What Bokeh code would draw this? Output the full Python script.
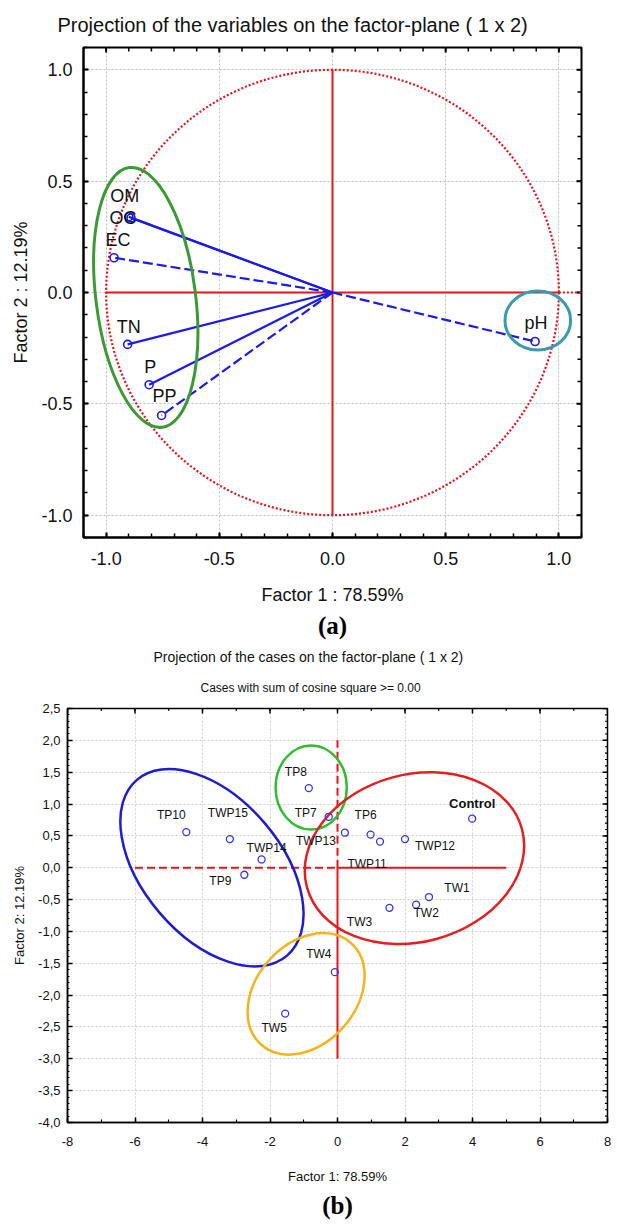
import numpy as np
from bokeh.plotting import figure
from bokeh.models import (ColumnDataSource, LinearAxis, FixedTicker, CustomJSTickFormatter,
                          Title, Range1d)
from bokeh.embed import file_html
from bokeh.resources import INLINE
from bokeh.core.properties import value

# ---------------- (a) projection of the variables ----------------
var_names = ["OM", "OC", "EC", "TN", "P", "PP", "pH"]
var_f1 = [-0.90, -0.89, -0.965, -0.905, -0.81, -0.755, 0.895]
var_f2 = [0.34, 0.335, 0.156, -0.233, -0.414, -0.552, -0.22]
var_dashed = [False, False, True, False, False, True, True]
var_lbl_dx = [-4, -8, 4, 1, 1, 3, 1]
var_lbl_dy = [-21, 0, -18, -17, -18, -19, -19]

a_ticks = [-1.0, -0.5, 0.0, 0.5, 1.0]
a_tick_labels = ["-1.0", "-0.5", "0.0", "0.5", "1.0"]

# group ellipses (a): centre x, centre y, width, height, angle (deg)
a_ell_x = [-0.825, 0.907]
a_ell_y = [-0.022, -0.126]
a_ell_w = [0.44, 0.29]
a_ell_h = [1.175, 0.265]
a_ell_ang = [7.2, 0.0]
a_ell_col = ["#3c9a34", "#3a9aae"]

# ---------------- (b) projection of the cases ----------------
case_names = ["Control", "TW1", "TW2", "TW3", "TW4", "TW5", "TP6", "TP7", "TP8", "TP9",
              "TP10", "TWP11", "TWP12", "TWP13", "TWP14", "TWP15"]
case_f1 = [3.99, 2.71, 2.33, 1.54, -0.08, -1.55, 0.98, -0.26, -0.85, -2.76,
           -4.48, 1.26, 2.0, 0.22, -2.25, -3.19]
case_f2 = [0.77, -0.46, -0.58, -0.63, -1.64, -2.29, 0.52, 0.80, 1.25, -0.11,
           0.56, 0.41, 0.45, 0.55, 0.13, 0.45]
case_lbl_dx = [0, 28, 10, -30, -16, -11, -5, -23, -13, -24, -15, -13, 30, -29, 5, -2]
case_lbl_dy = [-15, -9, 8, 14, -18, 14, -20, -4, -16, 6, -17, 22, 7, 8, -11, -26]

b_xticks = [-8, -6, -4, -2, 0, 2, 4, 6, 8]
b_xtick_labels = ["-8", "-6", "-4", "-2", "0", "2", "4", "6", "8"]
b_yticks = [2.5, 2.0, 1.5, 1.0, 0.5, 0.0, -0.5, -1.0, -1.5, -2.0, -2.5, -3.0, -3.5, -4.0]
b_ytick_labels = ["2,5", "2,0", "1,5", "1,0", "0,5", "0,0", "-0,5", "-1,0", "-1,5", "-2,0",
                  "-2,5", "-3,0", "-3,5", "-4,0"]

# group ellipses (b)
b_ell_x = [-3.72, -0.78, 2.28, -0.93]
b_ell_y = [0.0, 1.26, 0.15, -1.98]
b_ell_w = [6.85, 2.11, 6.6, 4.02]
b_ell_h = [2.17, 1.32, 2.63, 1.57]
b_ell_ang = [-49.5, 0.0, 15.2, 48.6]
b_ell_col = ["#1c1cd6", "#2ebd2e", "#e81e1e", "#f4b41a"]

# reference cross (b)
b_hline_dash = [-6.0, 0.0]
b_hline_solid = [0.0, 5.0]
b_vline_dash = [0.0, 2.0]
b_vline_solid = [-3.0, 0.0]

FONT = "Liberation Sans"
SERIF = "Liberation Serif"
RED = "#e8141b"
BLUE = "#1a1af0"


def fmt(ticks, labels):
    return CustomJSTickFormatter(args=dict(tv=list(ticks), tl=list(labels)), code="""
        for (let i = 0; i < tv.length; i++) { if (Math.abs(tv[i] - tick) < 1e-9) return tl[i]; }
        return '';
    """)


def style_axis(ax, fs, tick_in, minor_in, standoff, lw):
    ax.axis_line_color = "black"
    ax.axis_line_width = lw
    ax.major_tick_in = tick_in
    ax.major_tick_out = 0
    ax.minor_tick_in = minor_in
    ax.minor_tick_out = 0
    ax.major_tick_line_width = lw
    ax.minor_tick_line_width = lw * 0.75
    ax.major_label_text_font = FONT
    ax.major_label_text_font_size = fs
    ax.major_label_standoff = standoff
    ax.major_label_text_color = "#111111"
    ax.axis_label_text_font = FONT
    ax.axis_label_text_font_size = fs
    ax.axis_label_text_font_style = "normal"
    ax.axis_label_text_color = "#111111"


def mirror_ticks(p, xr, yr, fw, fh, xmaj, xmin, ymaj, ymin, lmaj, lmin, lw):
    """inward tick marks on the top and right frame edges"""
    dy = (yr[1] - yr[0]) / fh
    dx = (xr[1] - xr[0]) / fw
    for ticks, L, w in ((xmaj, lmaj, lw), (xmin, lmin, lw * 0.75)):
        p.segment(x0=ticks, x1=ticks, y0=[yr[1]] * len(ticks), y1=[yr[1] - L * dy] * len(ticks),
                  line_color="black", line_width=w)
    for ticks, L, w in ((ymaj, lmaj, lw), (ymin, lmin, lw * 0.75)):
        p.segment(y0=ticks, y1=ticks, x0=[xr[1]] * len(ticks), x1=[xr[1] - L * dx] * len(ticks),
                  line_color="black", line_width=w)


# ======================= figure (a) =======================
A_XR = (-1.1, 1.1)
A_YR = (-1.1, 1.1)
A_FW, A_FH = 498, 490
p1 = figure(frame_width=A_FW, frame_height=A_FH, output_backend="svg", toolbar_location=None,
            x_range=Range1d(*A_XR), y_range=Range1d(*A_YR),
            min_border_left=83, min_border_right=30, min_border_top=45, min_border_bottom=108,
            x_axis_location=None, y_axis_location=None)
p1.title.text = "Projection of the variables on the factor-plane ( 1 x   2)"
p1.title.text_font = FONT
p1.title.text_font_size = "20px"
p1.title.text_font_style = "normal"
p1.title.align = "left"
p1.title.offset = -26
p1.title.text_color = "#111111"
p1.title.standoff = 23
p1.outline_line_color = "black"
p1.outline_line_width = 2

a_minor = list(np.round(np.arange(-1.1, 1.1001, 0.1), 2))
a_xt = FixedTicker(ticks=a_ticks, minor_ticks=a_minor)
a_yt = FixedTicker(ticks=a_ticks, minor_ticks=a_minor)

ax_b = LinearAxis(ticker=a_xt, formatter=fmt(a_ticks, a_tick_labels), axis_label="Factor 1 : 78.59%")
style_axis(ax_b, "18px", 5, 4, 14, 2)
ax_b.axis_label_standoff = 17
p1.add_layout(ax_b, "below")
ax_l = LinearAxis(ticker=a_yt, formatter=fmt(a_ticks, a_tick_labels), axis_label="Factor 2 : 12.19%")
style_axis(ax_l, "18px", 5, 4, 11, 2)
ax_l.axis_label_standoff = 7
p1.add_layout(ax_l, "left")
mirror_ticks(p1, A_XR, A_YR, A_FW, A_FH, a_ticks, a_minor, a_ticks, a_minor, 5, 4, 2)

for g in (p1.xgrid, p1.ygrid):
    g.ticker = a_xt
    g.grid_line_color = "#bdbdbd"
    g.grid_line_dash = "2 2"
    g.grid_line_width = 1

# red unit circle and axes
p1.ellipse(x=0, y=0, width=2, height=2, fill_color=None, line_color=RED,
           line_dash="2 2", line_width=2.2)
p1.segment(x0=[-1.0, 0.0], y0=[0.0, -1.0], x1=[1.0, 0.0], y1=[0.0, 1.0],
           line_color=RED, line_width=2)
p1.segment(x0=[1.0], y0=[0.0], x1=[A_XR[1]], y1=[0.0], line_color=RED, line_width=2, line_dash="2 2")

# loadings
solid = [i for i, d in enumerate(var_dashed) if not d]
dashed = [i for i, d in enumerate(var_dashed) if d]
p1.segment(x0=[0] * len(solid), y0=[0] * len(solid), x1=[var_f1[i] for i in solid],
           y1=[var_f2[i] for i in solid], line_color=BLUE, line_width=2.2)
p1.segment(x0=[0] * len(dashed), y0=[0] * len(dashed), x1=[var_f1[i] for i in dashed],
           y1=[var_f2[i] for i in dashed], line_color=BLUE, line_width=2.2, line_dash="10 4")
p1.scatter(var_f1, var_f2, marker="circle", size=8, fill_color=None, line_color=BLUE, line_width=1.6)

src_a = ColumnDataSource(dict(x=var_f1, y=var_f2, t=var_names, dx=var_lbl_dx, dy=var_lbl_dy))
p1.text(x="x", y="y", text="t", x_offset="dx", y_offset="dy", source=src_a,
        text_font=value(FONT), text_font_size="18px", text_align="center",
        text_baseline="middle", text_color="#111111")

p1.ellipse(x=a_ell_x, y=a_ell_y, width=a_ell_w, height=a_ell_h, angle=a_ell_ang,
           angle_units="deg", fill_color=None, line_color=a_ell_col, line_width=3)

p1.add_layout(Title(text="(a)", align="center", text_font=SERIF,
                    text_font_size="25px", text_font_style="bold", text_color="black",
                    standoff=4), "below")

# ======================= figure (b) =======================
B_XR = (-8, 8)
B_YR = (-4.0, 2.5)
B_FW, B_FH = 540, 414
p2 = figure(frame_width=B_FW, frame_height=B_FH, output_backend="svg", toolbar_location=None,
            x_range=Range1d(*B_XR), y_range=Range1d(*B_YR),
            min_border_left=67, min_border_right=9, min_border_top=63, min_border_bottom=99,
            x_axis_location=None, y_axis_location=None)
p2.outline_line_color = "black"
p2.outline_line_width = 1.5
p2.add_layout(Title(text="Cases with sum of cosine square >= 0.00", align="left", offset=133,
                    text_font=FONT, text_font_size="12px", text_font_style="normal",
                    text_color="#111111", standoff=28), "above")
p2.add_layout(Title(text="Projection of the cases on the factor-plane ( 1 x  2)", align="left",
                    offset=86, text_font=FONT, text_font_size="14px", text_font_style="normal",
                    text_color="#111111", standoff=0), "above")

b_xminor = list(range(-8, 9))
b_yminor = list(np.round(np.arange(-4.0, 2.5001, 0.1), 2))
b_xt = FixedTicker(ticks=b_xticks, minor_ticks=b_xminor)
b_yt = FixedTicker(ticks=b_yticks, minor_ticks=b_yminor)

bx_b = LinearAxis(ticker=b_xt, formatter=fmt(b_xticks, b_xtick_labels), axis_label="Factor 1: 78.59%")
style_axis(bx_b, "13px", 5, 3, 14, 1.5)
bx_b.axis_label_standoff = 20
p2.add_layout(bx_b, "below")
bx_l = LinearAxis(ticker=b_yt, formatter=fmt(b_yticks, b_ytick_labels), axis_label="Factor 2: 12.19%")
style_axis(bx_l, "13px", 5, 2, 7, 1.5)
bx_l.axis_label_standoff = 8
p2.add_layout(bx_l, "left")
mirror_ticks(p2, B_XR, B_YR, B_FW, B_FH, b_xticks, b_xminor, b_yticks, b_yminor, 5, 2.5, 1.5)

p2.xgrid.ticker = b_xt
p2.ygrid.ticker = b_yt
for g in (p2.xgrid, p2.ygrid):
    g.grid_line_color = "#d0d0d0"
    g.grid_line_dash = "2 2"
    g.grid_line_width = 1

# reference cross
p2.segment(x0=[b_hline_dash[0], 0.0], y0=[0.0, b_vline_dash[0]], x1=[b_hline_dash[1], 0.0],
           y1=[0.0, b_vline_dash[1]], line_color=RED, line_width=2, line_dash="8 4")
p2.segment(x0=[b_hline_solid[0], 0.0], y0=[0.0, b_vline_solid[0]], x1=[b_hline_solid[1], 0.0],
           y1=[0.0, b_vline_solid[1]], line_color=RED, line_width=2)

p2.ellipse(x=b_ell_x, y=b_ell_y, width=b_ell_w, height=b_ell_h, angle=b_ell_ang,
           angle_units="deg", fill_color=None, line_color=b_ell_col, line_width=2.5)

p2.scatter(case_f1, case_f2, marker="circle", size=7, fill_color=None, line_color="#3535f5",
           line_width=1.3)

is_ctrl = [n == "Control" for n in case_names]
src_b = ColumnDataSource(dict(x=case_f1, y=case_f2, t=case_names, dx=case_lbl_dx, dy=case_lbl_dy,
                              fs=["13px" if c else "12px" for c in is_ctrl],
                              st=["bold" if c else "normal" for c in is_ctrl]))
p2.text(x="x", y="y", text="t", x_offset="dx", y_offset="dy", source=src_b,
        text_font=value(FONT), text_font_size="fs", text_font_style="st", text_align="center",
        text_baseline="middle", text_color="#111111")

p2.add_layout(Title(text="(b)", align="center", text_font=SERIF,
                    text_font_size="25px", text_font_style="bold", text_color="black",
                    standoff=6), "below")

# two independent roots, stacked, so the frames are not aligned to each other
open("out.html", "w").write(file_html([p1, p2], INLINE))
